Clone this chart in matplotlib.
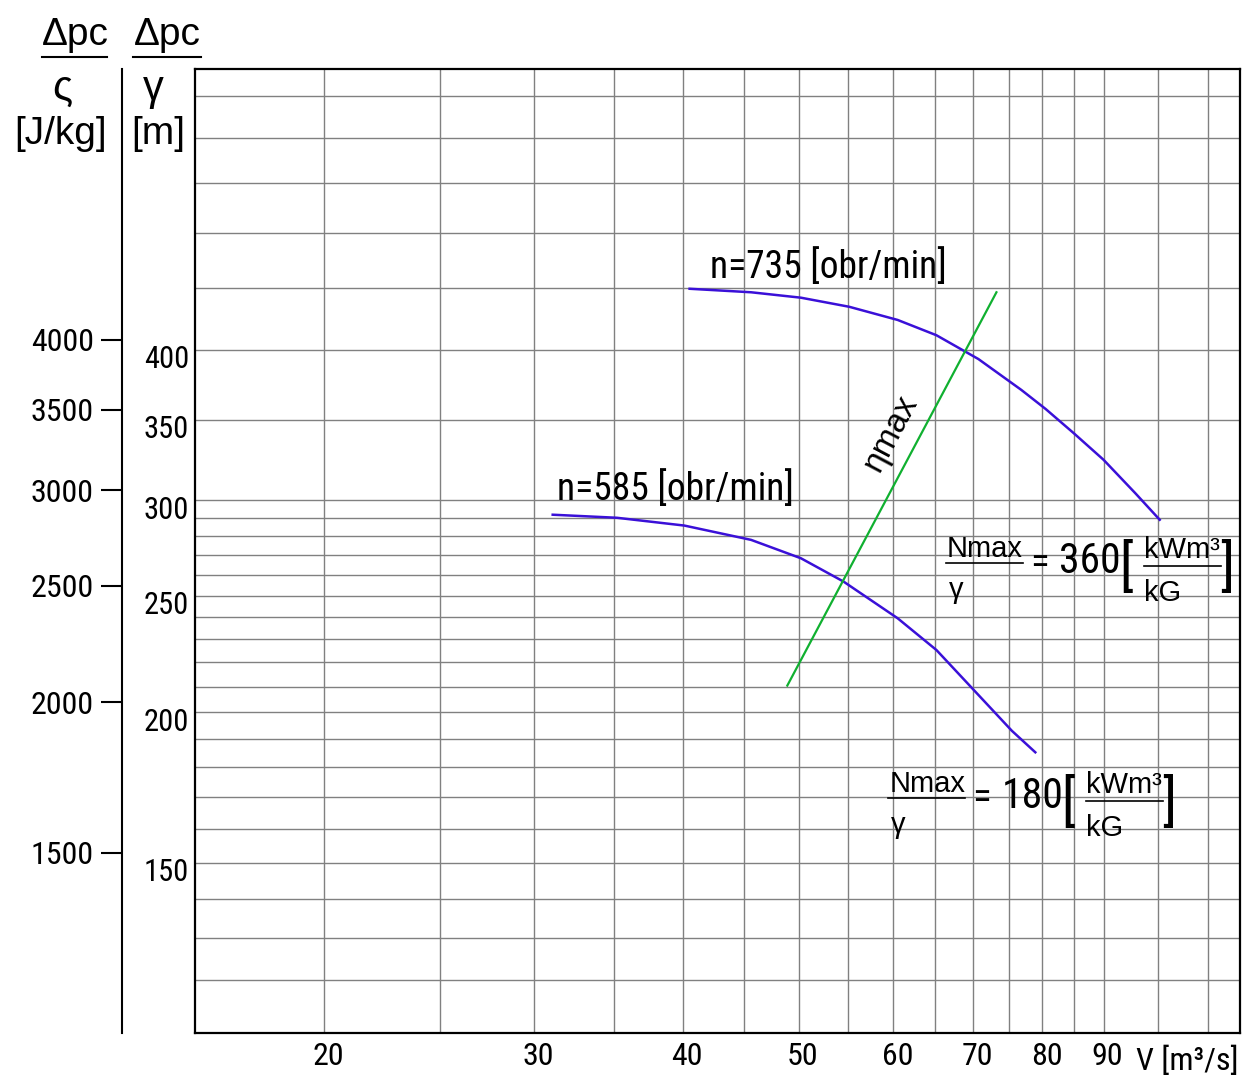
import os
import matplotlib
matplotlib.use('Agg')
import matplotlib.pyplot as plt
from matplotlib.lines import Line2D
from matplotlib.ticker import NullLocator
from matplotlib.transforms import ScaledTranslation
from matplotlib.font_manager import FontProperties, fontManager

# fan characteristics: flow V [m3/s] and head dp/gamma [m]
v_735 = [40.5, 45.6, 50.2, 55.1, 60.5, 65.2, 70.7, 76.8, 80.5, 85.0, 90.0, 95.7, 100.3]
h_735 = [449.4, 446.4, 441.8, 434.2, 423.4, 411.2, 392.9, 370.4, 357.1, 340.9, 324.1, 304.0, 289.0]

v_585 = [31.1, 35.2, 40.1, 45.6, 50.2, 54.5, 60.5, 65.2, 72.0, 75.4, 78.9]
h_585 = [291.8, 290.1, 285.8, 278.1, 268.5, 256.8, 239.4, 225.3, 202.8, 193.1, 185.3]

# line of maximum efficiency
v_eta = [48.9, 73.2]
h_eta = [210.5, 446.4]

v_ticks = [20, 30, 40, 50, 60, 70, 80, 90]
v_grid = [20, 25, 30, 35, 40, 45, 50, 55, 60, 65, 70, 75, 80, 85, 90, 100, 110]
h_ticks = [150, 200, 250, 300, 350, 400]
h_grid = [120, 130, 140, 150, 160, 170, 180, 190, 200, 210, 220, 230, 240, 250,
          260, 270, 280, 290, 300, 350, 400, 450, 500, 550, 600, 650]
e_ticks = [1500, 2000, 2500, 3000, 3500, 4000]  # J/kg
g = 9.81

sans = ['Liberation Sans', 'DejaVu Sans']

# look for a narrow sans face for the numbers
narrow_file = None
prefs = ['LiberationSansNarrow-Regular', 'ArialNarrow', 'RobotoCondensed-Regular',
         'NotoSans-Condensed.', 'NotoSans-CondensedRegular', 'DejaVuSansCondensed.',
         'OpenSans_Condensed-Regular', 'Roboto_Condensed-Regular']
files = sorted({f.fname for f in fontManager.ttflist})
for p in prefs:
    hits = [f for f in files if p.lower() in os.path.basename(f).lower()]
    if hits:
        narrow_file = hits[0]
        break
if narrow_file is None:
    for f in files:
        b = os.path.basename(f).lower()
        if ('condensed' in b or 'narrow' in b) and not any(
                k in b for k in ['bold', 'italic', 'light', 'oblique', 'mono', 'serif', 'thin',
                                 'black', 'medium', 'semi', 'extra']):
            narrow_file = f
            break


def nfont(size):
    if narrow_file:
        return FontProperties(fname=narrow_file, size=size)
    return FontProperties(family=sans, size=size * 0.85)


W, H = 1242, 1077
fig = plt.figure(figsize=(W / 100, H / 100), dpi=100)


def fx(x):
    return x / W


def fy(y):
    return 1 - y / H


ax = fig.add_axes([fx(194.7), fy(1033.3), (1240 - 194.7) / W, (1033.3 - 69.3) / H])
ax.set_xscale('log')
ax.set_yscale('log')
ax.set_xlim(15.59, 117.1)
ax.set_ylim(108.3, 683.6)

for v in v_grid:
    ax.axvline(v, color='0.5', lw=1.0, zorder=0)
for h in h_grid:
    ax.axhline(h, color='0.5', lw=1.0, zorder=0)

ax.plot(v_735, h_735, color='#3a10d8', lw=1.8, zorder=3, solid_joinstyle='round')
ax.plot(v_585, h_585, color='#3a10d8', lw=1.8, zorder=3, solid_joinstyle='round')
ax.plot(v_eta, h_eta, color='#10b030', lw=1.6, zorder=3)

for s in ax.spines.values():
    s.set_linewidth(1.6)

ax.set_xticks(v_ticks, labels=[str(v) for v in v_ticks])
ax.set_yticks(h_ticks, labels=[str(h) for h in h_ticks])
ax.minorticks_off()
ax.tick_params(axis='x', length=0, pad=6)
ax.tick_params(axis='y', length=0, pad=4)
for lab in ax.get_xticklabels():
    lab.set_fontproperties(nfont(23))
    lab.set_transform(lab.get_transform() + ScaledTranslation(0.04, 0, fig.dpi_scale_trans))
for lab in ax.get_yticklabels():
    lab.set_fontproperties(nfont(22))
    lab.set_transform(lab.get_transform() + ScaledTranslation(0, -0.07, fig.dpi_scale_trans))

# energy scale in J/kg on a separate axis line
sec = ax.secondary_yaxis(-73 / 1045.3, functions=(lambda m: m * g, lambda e: e / g))
sec.set_yticks(e_ticks, labels=[str(e) for e in e_ticks])
sec.yaxis.set_minor_locator(NullLocator())
sec.tick_params(axis='y', direction='out', length=15, width=1.5, pad=5)
for lab in sec.get_yticklabels():
    lab.set_fontproperties(nfont(23))
sec.spines['left'].set_linewidth(1.5)

# header of the vertical axes
fig.text(fx(75), fy(45), 'Δpc', fontsize=28, family=sans, ha='center', va='baseline')
fig.text(fx(167), fy(45), 'Δpc', fontsize=28, family=sans, ha='center', va='baseline')
for x0, x1 in [(42, 107), (133, 201)]:
    fig.add_artist(Line2D([fx(x0), fx(x1)], [fy(56.7)] * 2, transform=fig.transFigure,
                          color='k', lw=1.5))
fig.text(fx(62), fy(89), 'ς', fontsize=30, family=sans, ha='center', va='center')
fig.text(fx(153), fy(89), 'γ', fontsize=30, family=sans, ha='center', va='center')
fig.text(fx(61), fy(134), '[J/kg]', fontsize=28, family=sans, ha='center', va='center')
fig.text(fx(158), fy(134), '[m]', fontsize=28, family=sans, ha='center', va='center')

fig.text(fx(1238), fy(1070), 'V [m³/s]', fontproperties=nfont(23), ha='right', va='baseline')

# curve labels
fig.text(fx(710), fy(278.5), 'n=735 [obr/min]', fontproperties=nfont(27), va='baseline')
fig.text(fx(557), fy(500), 'n=585 [obr/min]', fontproperties=nfont(27), va='baseline')
fig.text(fx(891), fy(434), 'ηmax', fontsize=24, family=sans, rotation=62,
         ha='center', va='center', rotation_mode='anchor')


def power_label(left, base, value):
    fig.text(fx(left + 1), fy(base - 6), 'Nmax', fontsize=21, family=sans, va='baseline')
    fig.add_artist(Line2D([fx(left), fx(left + 77)], [fy(base)] * 2,
                          transform=fig.transFigure, color='k', lw=1.2))
    fig.text(fx(left + 3), fy(base + 13), 'γ', fontsize=21, family=sans, va='top')
    fig.text(fx(left + 93), fy(base + 1), '=', fontproperties=nfont(28),
             ha='center', va='center')
    fig.text(fx(left + 113), fy(base - 1), value, fontproperties=nfont(30),
             ha='left', va='center')
    fig.text(fx(left + 180), fy(base + 6), '[', fontproperties=nfont(40),
             ha='center', va='center')
    fig.text(fx(left + 198), fy(base - 4.4), 'kWm³', fontsize=21, family=sans, va='baseline')
    fig.add_artist(Line2D([fx(left + 198), fx(left + 275)], [fy(base + 3.5)] * 2,
                          transform=fig.transFigure, color='k', lw=1.2))
    fig.text(fx(left + 198), fy(base + 16), 'kG', fontsize=21, family=sans, va='top')
    fig.text(fx(left + 281), fy(base + 6), ']', fontproperties=nfont(40),
             ha='center', va='center')


power_label(946, 562.7, '360')
power_label(888.4, 797.7, '180')

fig.savefig('out.png', dpi=100)
